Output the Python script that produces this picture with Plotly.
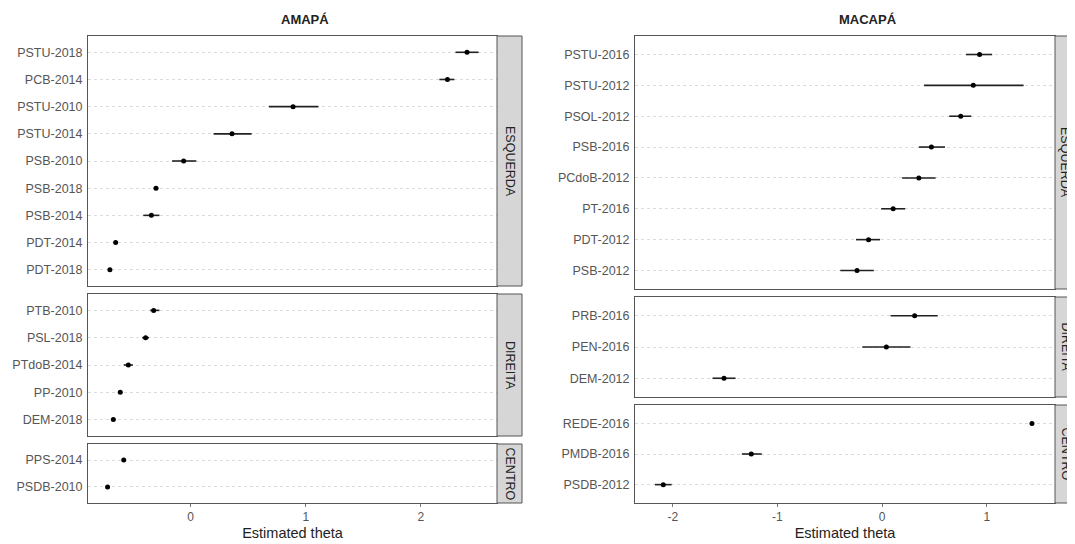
import plotly.graph_objects as go

# page body has an 8px margin: figure is drawn 8px right/down of the window origin
OFF = 8
W, H = 1075 - OFF, 544 - OFF

# ---------------- DATA ----------------
# AMAPÁ
ama_esq_labels = ["PSTU-2018", "PCB-2014", "PSTU-2010", "PSTU-2014", "PSB-2010",
                  "PSB-2018", "PSB-2014", "PDT-2014", "PDT-2018"]
ama_esq_theta = [2.40, 2.23, 0.89, 0.36, -0.06, -0.30, -0.34, -0.65, -0.70]
ama_esq_low = [2.30, 2.16, 0.68, 0.20, -0.16, -0.32, -0.41, -0.66, -0.71]
ama_esq_high = [2.50, 2.29, 1.11, 0.53, 0.05, -0.28, -0.27, -0.64, -0.69]

ama_dir_labels = ["PTB-2010", "PSL-2018", "PTdoB-2014", "PP-2010", "DEM-2018"]
ama_dir_theta = [-0.32, -0.39, -0.54, -0.61, -0.67]
ama_dir_low = [-0.35, -0.42, -0.58, -0.62, -0.68]
ama_dir_high = [-0.27, -0.36, -0.50, -0.60, -0.66]

ama_cen_labels = ["PPS-2014", "PSDB-2010"]
ama_cen_theta = [-0.58, -0.72]
ama_cen_low = [-0.59, -0.73]
ama_cen_high = [-0.57, -0.71]

# MACAPÁ
mac_esq_labels = ["PSTU-2016", "PSTU-2012", "PSOL-2012", "PSB-2016", "PCdoB-2012",
                  "PT-2016", "PDT-2012", "PSB-2012"]
mac_esq_theta = [0.93, 0.87, 0.75, 0.47, 0.35, 0.105, -0.13, -0.24]
mac_esq_low = [0.80, 0.40, 0.64, 0.35, 0.19, -0.01, -0.25, -0.40]
mac_esq_high = [1.05, 1.35, 0.85, 0.60, 0.51, 0.22, -0.02, -0.08]

mac_dir_labels = ["PRB-2016", "PEN-2016", "DEM-2012"]
mac_dir_theta = [0.31, 0.04, -1.51]
mac_dir_low = [0.08, -0.19, -1.62]
mac_dir_high = [0.53, 0.27, -1.40]

mac_cen_labels = ["REDE-2016", "PMDB-2016", "PSDB-2012"]
mac_cen_theta = [1.43, -1.25, -2.09]
mac_cen_low = [1.42, -1.34, -2.17]
mac_cen_high = [1.44, -1.15, -2.01]

titles = ["AMAPÁ", "MACAPÁ"]
strips = ["ESQUERDA", "DIREITA", "CENTRO"]
x_title = "Estimated theta"
x_ticks_left = [0, 1, 2]
x_ticks_right = [-2, -1, 0, 1]

# ---------------- LAYOUT GEOMETRY (window pixels) ----------------
FONT = "Liberation Sans, Arial, sans-serif"
AX_COL = "#555555"

cols = [
    dict(x0=88, x1=497, strip_x1=522, xr=[-0.89, 2.66], ticks=x_ticks_left,
         title_x=305,
         panels=[(36, 286), (294, 436), (444, 503)],
         data=[(ama_esq_labels, ama_esq_theta, ama_esq_low, ama_esq_high),
               (ama_dir_labels, ama_dir_theta, ama_dir_low, ama_dir_high),
               (ama_cen_labels, ama_cen_theta, ama_cen_low, ama_cen_high)]),
    dict(x0=635, x1=1055, strip_x1=1075, xr=[-2.36, 1.65], ticks=x_ticks_right,
         title_x=868,
         panels=[(36, 289), (297, 397), (405, 503)],
         data=[(mac_esq_labels, mac_esq_theta, mac_esq_low, mac_esq_high),
               (mac_dir_labels, mac_dir_theta, mac_dir_low, mac_dir_high),
               (mac_cen_labels, mac_cen_theta, mac_cen_low, mac_cen_high)]),
]


def px(x):
    return (x - OFF) / W


def py(y):
    return 1 - (y - OFF) / H


fig = go.Figure()
layout = {}
shapes = []
annotations = []

k = 0
for ci, col in enumerate(cols):
    for pi, (ytop, ybot) in enumerate(col["panels"]):
        k += 1
        sfx = "" if k == 1 else str(k)
        labels, theta, low, high = col["data"][pi]
        n = len(labels)
        fig.add_trace(go.Scatter(
            x=theta, y=labels, mode="markers",
            marker=dict(color="black", size=5),
            error_x=dict(type="data", symmetric=False,
                         array=[h - t for h, t in zip(high, theta)],
                         arrayminus=[t - l for t, l in zip(theta, low)],
                         color="#222222", thickness=1.6, width=0),
            xaxis="x" + sfx, yaxis="y" + sfx, showlegend=False,
            hoverinfo="x+y",
        ))
        last = pi == len(col["panels"]) - 1
        layout["xaxis" + sfx] = dict(
            domain=[px(col["x0"]), px(col["x1"])], anchor="y" + sfx,
            range=col["xr"], showgrid=False, zeroline=False,
            showline=True, mirror=True, linecolor=AX_COL, linewidth=1,
            tickvals=col["ticks"] if last else [],
            ticktext=[str(t) for t in col["ticks"]] if last else [],
            showticklabels=last, ticks="outside" if last else "",
            ticklen=3, tickcolor="#777777",
            tickfont=dict(family=FONT, size=12, color="#555555"),
            title=dict(text=x_title if last else "",
                       font=dict(family=FONT, size=14.5, color="#222222"),
                       standoff=4),
            automargin=False,
        )
        layout["yaxis" + sfx] = dict(
            domain=[py(ybot), py(ytop)], anchor="x" + sfx,
            type="category", categoryorder="array",
            categoryarray=list(reversed(labels)),
            range=[-0.6, n - 1 + 0.6],
            showgrid=True, gridcolor="#dcdcdc", griddash="dot", gridwidth=1,
            zeroline=False, showline=True, mirror=True,
            linecolor=AX_COL, linewidth=1, ticks="", ticklabelstandoff=2,
            tickfont=dict(family=FONT, size=12.5, color="#555555"),
            automargin=False,
        )
        # strip
        shapes.append(dict(type="rect", xref="paper", yref="paper",
                           x0=px(col["x1"]), x1=px(col["strip_x1"]),
                           y0=py(ybot), y1=py(ytop),
                           fillcolor="#d6d6d6", line=dict(color=AX_COL, width=1),
                           layer="above"))
        annotations.append(dict(
            text=strips[pi], xref="paper", yref="paper",
            x=px((col["x1"] + col["strip_x1"]) / 2 + 0.5), y=py((ytop + ybot) / 2),
            showarrow=False, textangle=90,
            font=dict(family=FONT, size=12.5, color="#222222"),
            xanchor="center", yanchor="middle"))
    annotations.append(dict(
        text="<b>" + titles[ci] + "</b>", xref="paper", yref="paper",
        x=px(col["title_x"]), y=py(20), showarrow=False,
        font=dict(family=FONT, size=13, color="#222222"),
        xanchor="center", yanchor="middle"))

fig.update_layout(
    width=W, height=H,
    margin=dict(l=0, r=0, t=0, b=0),
    paper_bgcolor="white", plot_bgcolor="white",
    shapes=shapes, annotations=annotations,
    **layout,
)

fig.write_html("out.html")
